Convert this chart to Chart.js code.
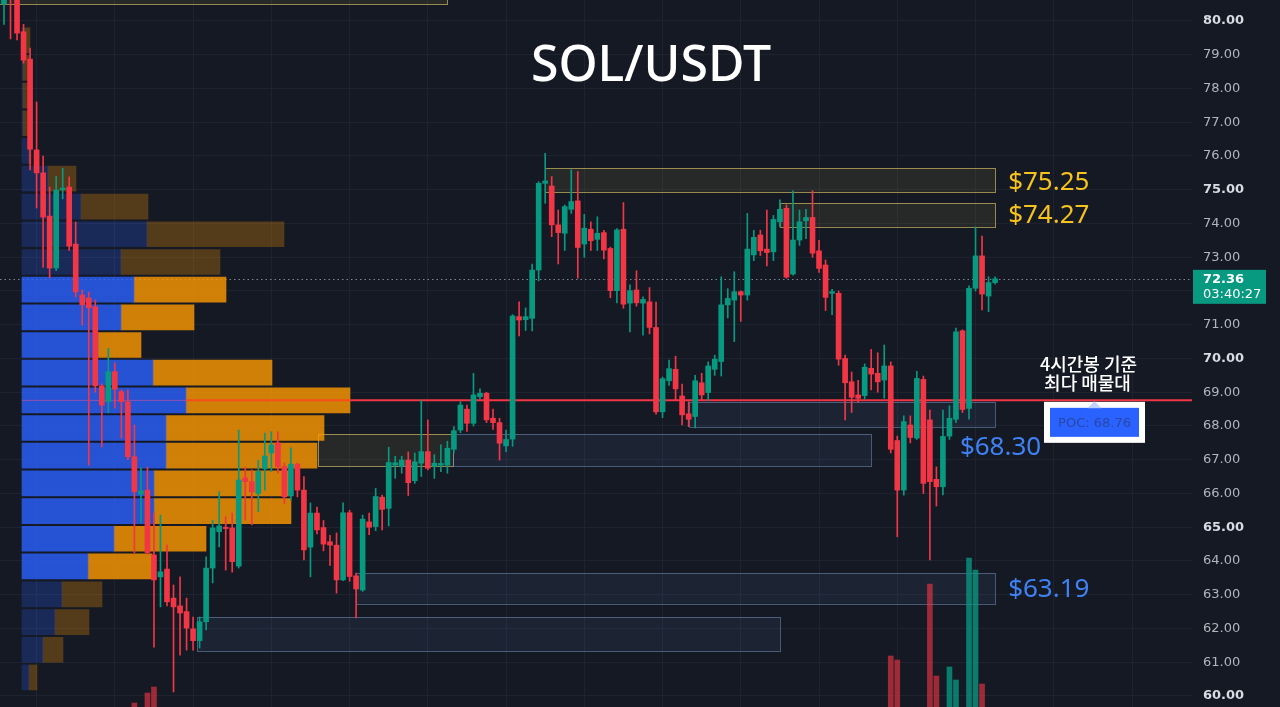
<!DOCTYPE html>
<html lang="ko">
<head>
<meta charset="utf-8">
<title>SOL/USDT</title>
<script src="https://cdn.jsdelivr.net/npm/chart.js@4.4.1/dist/chart.umd.min.js"></script>
<style>
  html, body { margin: 0; padding: 0; background: #151924; overflow: hidden; }
  #wrap { width: 1280px; height: 707px; position: relative; }
</style>
</head>
<body>
<div id="wrap"><canvas id="chart"></canvas></div>
<script>
// ========================================
// 캔들 데이터 (4시간봉, 왼쪽부터)
// ========================================
const opens = [
  80.50, 81.20, 80.70, 79.68, 78.87, 76.18, 75.50, 74.22, 72.68, 75.00,
  75.08, 73.39, 71.88, 71.79, 71.53, 69.19, 68.72, 69.61, 69.02, 68.72,
  67.09, 65.98, 66.10, 64.18, 63.53, 63.76, 62.90, 62.67, 62.50, 61.99,
  61.64, 62.20, 63.79, 64.87, 65.00, 64.98, 63.85, 66.46, 66.35, 66.00,
  66.73, 67.20, 67.50, 66.80, 65.93, 66.87, 66.10, 64.41, 65.42, 64.99,
  64.57, 64.47, 63.44, 65.43, 63.56, 63.14, 65.16, 65.02, 65.89, 65.56,
  66.84, 66.80, 66.99, 66.38, 66.90, 67.24, 66.80, 66.84, 66.84, 67.31,
  67.88, 68.50, 68.08, 68.87, 68.97, 68.23, 68.10, 67.41, 67.61, 71.24,
  71.15, 71.19, 72.62, 75.19, 75.11, 73.96, 73.71, 74.42, 74.67, 73.39,
  73.83, 73.53, 73.73, 73.26, 72.01, 73.83, 71.64, 72.03, 71.64, 71.68,
  70.92, 68.42, 69.34, 69.68, 68.89, 68.36, 68.28, 69.28, 68.99, 69.68,
  69.91, 71.59, 71.73, 71.98, 71.88, 73.07, 73.66, 73.24, 73.16, 74.05,
  74.45, 72.50, 73.51, 74.08, 74.18, 73.19, 72.77, 71.93, 71.93, 70.00,
  69.31, 68.92, 68.90, 69.71, 69.56, 69.36, 69.78, 67.57, 66.10, 68.03,
  67.64, 69.38, 68.18, 66.42, 66.20, 67.70, 68.20, 70.82, 68.52, 72.08,
  73.04, 71.85, 72.25
];
const highs = [
  81.00, 81.30, 80.90, 79.90, 79.20, 77.60, 76.00, 75.08, 75.40, 75.64,
  75.38, 74.04, 72.03, 71.97, 71.73, 69.25, 70.30, 69.87, 69.07, 69.07,
  68.03, 66.76, 66.78, 65.42, 65.36, 64.47, 63.29, 63.53, 62.90, 62.34,
  62.34, 64.12, 65.21, 66.05, 65.31, 65.42, 67.88, 66.78, 66.70, 66.99,
  67.79, 67.83, 67.83, 66.90, 67.35, 66.90, 66.50, 65.72, 65.60, 65.20,
  64.76, 64.83, 65.72, 65.50, 63.64, 65.36, 65.42, 66.15, 65.95, 67.37,
  67.10, 67.10, 67.23, 67.20, 68.77, 68.18, 67.15, 67.44, 67.55, 67.98,
  68.72, 68.62, 69.56, 69.10, 69.00, 68.50, 68.23, 67.88, 71.30, 71.68,
  71.50, 72.80, 75.24, 76.08, 75.39, 74.40, 74.55, 75.59, 75.54, 74.27,
  74.05, 74.20, 73.80, 73.30, 73.85, 74.62, 72.18, 72.60, 71.83, 72.10,
  71.67, 69.45, 69.95, 70.07, 69.24, 68.72, 69.50, 69.56, 69.90, 70.10,
  72.42, 72.07, 72.57, 72.00, 74.30, 73.80, 73.80, 74.40, 74.24, 74.70,
  74.55, 74.97, 74.40, 74.42, 74.97, 73.50, 72.92, 72.05, 72.00, 70.10,
  69.60, 69.35, 69.84, 70.27, 70.17, 70.40, 69.90, 67.70, 68.30, 68.30,
  69.62, 69.48, 68.47, 66.79, 68.47, 68.60, 70.90, 70.85, 72.15, 73.90,
  73.63, 72.42, 72.42
];
const lows = [
  79.90, 79.47, 79.44, 78.75, 75.59, 74.46, 72.70, 72.39, 72.60, 74.73,
  73.20, 71.82, 70.99, 66.84, 69.00, 67.38, 68.39, 68.53, 67.64, 67.00,
  64.24, 65.13, 64.20, 61.45, 62.64, 62.67, 60.12, 61.21, 61.36, 61.36,
  61.42, 61.96, 63.35, 64.42, 63.73, 63.67, 63.79, 65.21, 65.07, 65.46,
  66.10, 66.65, 66.60, 65.70, 65.80, 65.90, 64.03, 63.53, 64.80, 64.30,
  63.87, 63.05, 63.42, 63.40, 62.31, 63.10, 64.78, 64.90, 64.92, 65.04,
  66.45, 66.60, 65.94, 66.30, 66.50, 66.70, 66.45, 66.65, 66.60, 67.20,
  67.80, 67.84, 68.00, 68.80, 68.10, 67.90, 66.99, 67.24, 67.40, 70.67,
  70.83, 70.82, 72.30, 74.60, 73.61, 72.80, 73.20, 74.30, 72.38, 73.00,
  73.20, 73.20, 72.95, 71.80, 71.65, 71.49, 70.79, 71.55, 70.69, 70.73,
  68.35, 68.25, 69.20, 68.77, 68.03, 67.98, 67.94, 68.75, 68.75, 69.50,
  69.48, 71.20, 70.50, 71.10, 71.73, 72.90, 73.05, 72.74, 72.90, 73.90,
  72.38, 72.47, 73.35, 73.55, 73.00, 72.55, 71.42, 71.30, 69.80, 68.18,
  68.40, 68.70, 68.80, 69.07, 69.00, 68.82, 67.20, 64.72, 65.95, 67.50,
  67.60, 66.00, 64.03, 65.63, 65.96, 67.60, 68.10, 68.40, 68.20, 72.00,
  71.44, 71.39, 72.20
];
const closes = [
  80.90, 80.70, 79.64, 78.84, 76.20, 75.50, 74.19, 72.68, 74.99, 75.05,
  73.33, 71.97, 71.59, 71.50, 69.19, 68.62, 69.61, 69.09, 68.72, 67.09,
  66.05, 66.08, 64.25, 63.44, 63.68, 62.79, 62.64, 62.46, 62.01, 61.64,
  62.20, 63.79, 64.98, 65.04, 64.96, 63.98, 66.40, 66.35, 66.05, 66.65,
  67.11, 67.44, 66.80, 65.90, 66.87, 66.10, 64.33, 65.42, 64.92, 64.50,
  64.47, 63.44, 65.43, 63.54, 63.17, 65.24, 65.00, 65.91, 65.53, 66.92,
  66.91, 66.99, 66.32, 66.94, 67.24, 66.75, 66.90, 66.89, 67.34, 67.86,
  68.62, 68.08, 68.92, 68.97, 68.18, 68.10, 67.49, 67.60, 71.26, 71.14,
  71.24, 72.62, 75.19, 75.26, 73.96, 73.73, 74.50, 74.65, 73.29, 73.86,
  73.49, 73.71, 73.21, 72.01, 73.81, 71.61, 72.01, 71.65, 71.75, 70.92,
  68.42, 69.40, 69.70, 69.10, 68.33, 68.20, 69.34, 68.92, 69.78, 69.98,
  71.59, 71.78, 71.98, 71.88, 73.24, 73.59, 73.19, 73.14, 74.12, 74.42,
  72.41, 73.51, 74.05, 74.18, 73.12, 72.67, 71.81, 71.98, 69.98, 69.28,
  68.85, 68.82, 69.74, 69.54, 69.31, 69.78, 67.31, 66.10, 68.13, 67.66,
  69.41, 66.30, 66.35, 66.20, 67.69, 68.23, 70.79, 68.49, 72.08, 73.04,
  71.91, 72.25, 72.36
];
// 거래량 (화면 아래로 잘려서 보이지 않는 봉은 null)
const volumes = [
  null, null, null, null, null, null, null, null, null, null,
  null, null, null, null, null, null, null, null, null, null,
  57, null, 67, 73, null, null, null, null, null, null,
  null, null, null, null, null, null, null, null, null, null,
  null, null, null, null, null, null, null, null, null, null,
  null, null, null, null, null, null, null, null, null, null,
  null, null, null, null, null, null, null, null, null, null,
  null, null, null, null, null, null, null, null, null, null,
  null, null, null, null, null, null, null, null, null, null,
  null, null, null, null, null, null, null, null, null, null,
  null, null, null, null, null, null, null, null, null, null,
  null, null, null, null, null, null, null, null, null, null,
  null, null, null, null, null, null, null, null, null, null,
  null, null, null, null, null, null, 104, 100, null, null,
  null, null, 176, 84, null, 93, 80, null, 202, 190,
  76, null, null
];

// ========================================
// 매물대 (Volume Profile)
// ========================================
const profPrices = [
  79.43, 78.61, 77.79, 76.97, 76.15, 75.33, 74.50, 73.68, 72.86, 72.04,
  71.22, 70.40, 69.58, 68.76, 67.94, 67.12, 66.30, 65.48, 64.66, 63.84,
  63.01, 62.19, 61.37, 60.55
];
const profBuy = [
  1, 1, 1, 1, 7, 26, 59, 125, 99, 112,
  99, 76, 131, 164, 144, 144, 132, 132, 92, 66,
  40, 33, 21, 7
];
const profSell = [
  7, 7, 7, 7, 2, 28, 67, 137, 99, 92,
  73, 43, 119, 164, 158, 151, 137, 137, 92, 64,
  40, 34, 20, 8
];
const valueArea = [63.84, 72.04];
const pocPrice = 68.76;
const lastPrice = 72.36;
const countdown = '03:40:27';

// 축 눈금
const priceTicks = [60, 61, 62, 63, 64, 65, 66, 67, 68, 69, 70, 71, 72, 73, 74, 75, 76, 77, 78, 79, 80];
const gridIdx = [5, 17, 29, 41, 53, 65, 77, 89, 101, 113, 125, 137, 149, 161, 173];

// 지지/저항 박스 (봉 인덱스, 가격)
const zones = [
  { from: -1, to: 68, top: 81.0, bottom: 80.50, kind: 'gold' },
  { from: 83, to: 152, top: 75.64, bottom: 74.93, kind: 'gold' },
  { from: 119, to: 152, top: 74.61, bottom: 73.90, kind: 'gold' },
  { from: 105, to: 152, top: 68.71, bottom: 67.97, kind: 'blue' },
  { from: 48.2, to: 68.9, top: 67.76, bottom: 66.81, kind: 'gold' },
  { from: 68.9, to: 133, top: 67.76, bottom: 66.81, kind: 'blue' },
  { from: 54, to: 152, top: 63.64, bottom: 62.73, kind: 'blue' },
  { from: 29.6, to: 119, top: 62.34, bottom: 61.33, kind: 'blue' }
];
const zoneLabels = [
  { text: '$75.25', at: 154, price: 75.25, kind: 'gold' },
  { text: '$74.27', at: 154, price: 74.27, kind: 'gold' },
  { text: '$68.30', at: 146.6, price: 67.38, kind: 'blue' },
  { text: '$63.19', at: 154, price: 63.19, kind: 'blue' }
];

// ========================================
// 스타일
// ========================================
const C = {
  bg: '#151924',
  grid: '#1f2330',
  up: '#089981',
  down: '#f23645',
  upVol: 'rgba(8, 153, 129, 0.78)',
  downVol: 'rgba(242, 54, 69, 0.62)',
  buy: 'rgba(41, 98, 255, 0.8)',
  buyDim: 'rgba(41, 98, 255, 0.24)',
  sell: 'rgba(255, 152, 0, 0.8)',
  sellDim: 'rgba(255, 152, 0, 0.27)',
  tick: '#b2b5be',
  tickBold: '#d8dbe2'
};
const zoneStyle = {
  gold: { fill: 'rgba(160, 150, 70, 0.13)', line: 'rgba(205, 185, 95, 0.7)', text: '#f6c21e' },
  blue: { fill: 'rgba(70, 100, 150, 0.14)', line: 'rgba(115, 145, 185, 0.55)', text: '#3f82f4' }
};

const xMin = -0.613, xMax = 182.2;
const yMin = 59.674, yMax = 80.622;
const isUp = i => closes[i] >= opens[i];
const inVA = p => p >= valueArea[0] - 0.01 && p <= valueArea[1] + 0.01;

// 축 자동 여백 제거
const noPad = s => { s.paddingTop = 0; s.paddingBottom = 0; s.paddingLeft = 0; s.paddingRight = 0; };

// ========================================
// 오버레이 (박스, 라인, 텍스트)
// ========================================
const overlay = {
  id: 'overlay',
  beforeDatasetsDraw(chart) {
    const { ctx, chartArea: a, scales: { x, y } } = chart;
    ctx.save();
    ctx.beginPath();
    ctx.rect(a.left, a.top, a.right - a.left, a.bottom - a.top);
    ctx.clip();
    zones.forEach(z => {
      const l = x.getPixelForValue(z.from), r = x.getPixelForValue(z.to);
      const t = y.getPixelForValue(z.top), b = y.getPixelForValue(z.bottom);
      ctx.fillStyle = zoneStyle[z.kind].fill;
      ctx.fillRect(l, t, r - l, b - t);
      ctx.strokeStyle = zoneStyle[z.kind].line;
      ctx.lineWidth = 1;
      ctx.strokeRect(Math.round(l) + 0.5, Math.round(t) + 0.5, Math.round(r - l), Math.round(b - t));
    });
    // 현재가 점선
    const py = Math.round(y.getPixelForValue(lastPrice)) + 0.5;
    ctx.setLineDash([1.5, 3]);
    ctx.strokeStyle = 'rgba(170, 180, 195, 0.7)';
    ctx.beginPath();
    ctx.moveTo(a.left, py);
    ctx.lineTo(a.right, py);
    ctx.stroke();
    ctx.restore();
  },
  afterDatasetDraw(chart, args) {
    if (args.index !== 2) return;
    // 매물대 위에 POC 라인
    const { ctx, chartArea: a, scales: { y, xp } } = chart;
    const pi = profPrices.indexOf(pocPrice);
    const py = y.getPixelForValue(pocPrice);
    const x0 = xp.getPixelForValue(0);
    const x1 = xp.getPixelForValue(profBuy[pi]);
    const x2 = xp.getPixelForValue(profBuy[pi] + profSell[pi]);
    ctx.save();
    ctx.strokeStyle = 'rgba(242, 80, 150, 0.55)';
    ctx.lineWidth = 1;
    ctx.beginPath(); ctx.moveTo(x0, py); ctx.lineTo(x1, py); ctx.stroke();
    ctx.strokeStyle = 'rgba(255, 70, 30, 0.85)';
    ctx.lineWidth = 2;
    ctx.beginPath(); ctx.moveTo(x1, py); ctx.lineTo(x2, py); ctx.stroke();
    ctx.strokeStyle = C.down;
    ctx.beginPath(); ctx.moveTo(x2, py); ctx.lineTo(a.right, py); ctx.stroke();
    ctx.restore();
  },
  afterDraw(chart) {
    const { ctx, chartArea: a, scales: { x, y } } = chart;
    ctx.save();
    // 타이틀
    ctx.fillStyle = '#ffffff';
    ctx.font = '500 50px "Noto Sans", sans-serif';
    ctx.textAlign = 'center';
    ctx.textBaseline = 'alphabetic';
    ctx.fillText('SOL/USDT', 651, 81);

    // 박스 가격 라벨
    ctx.font = '26px "Noto Sans", sans-serif';
    ctx.textAlign = 'left';
    ctx.textBaseline = 'middle';
    zoneLabels.forEach(l => {
      ctx.fillStyle = zoneStyle[l.kind].text;
      ctx.fillText(l.text, x.getPixelForValue(l.at), y.getPixelForValue(l.price) + 1);
    });

    // POC 라벨
    const pocY = y.getPixelForValue(pocPrice);
    const cx = 1094.5;
    ctx.fillStyle = '#ffffff';
    ctx.font = '500 18px "Noto Sans CJK KR", sans-serif';
    ctx.textAlign = 'center';
    ctx.fillText('4시간봉 기준', cx - 6, pocY - 36);
    ctx.fillText('최다 매물대', cx - 7, pocY - 17);
    ctx.fillStyle = '#ffffff';
    ctx.fillRect(cx - 50.5, pocY + 1.5, 101, 41);
    ctx.fillStyle = '#2962ff';
    ctx.fillRect(cx - 44.5, pocY + 7.5, 89, 29);
    ctx.fillStyle = 'rgba(185, 205, 255, 0.9)';
    ctx.beginPath();
    ctx.moveTo(cx - 7, pocY + 8);
    ctx.lineTo(cx + 7, pocY + 8);
    ctx.lineTo(cx, pocY + 1);
    ctx.closePath();
    ctx.fill();
    ctx.fillStyle = '#2b47a6';
    ctx.font = '13px "DejaVu Sans", sans-serif';
    ctx.fillText('POC: ' + pocPrice.toFixed(2), cx, pocY + 23);

    // 현재가 태그
    const ly = y.getPixelForValue(lastPrice);
    ctx.fillStyle = C.up;
    ctx.fillRect(a.right + 1, ly - 9, 73, 34);
    ctx.fillStyle = '#ffffff';
    ctx.textAlign = 'left';
    ctx.font = 'bold 13px "DejaVu Sans", sans-serif';
    ctx.fillText(lastPrice.toFixed(2), a.right + 11, ly + 1);
    ctx.font = '13px "DejaVu Sans", sans-serif';
    ctx.fillText(countdown, a.right + 11, ly + 16);
    ctx.restore();
  }
};

// ========================================
// 차트
// ========================================
const idx = opens.map((_, i) => i);

new Chart(document.getElementById('chart'), {
  type: 'bar',
  data: {
    datasets: [
      {
        label: 'body',
        data: idx.map(i => ({ x: i, y: [opens[i], closes[i]] })),
        backgroundColor: ctx => isUp(ctx.dataIndex) ? C.up : C.down,
        barThickness: 5,
        minBarLength: 1,
        grouped: false,
        order: 1
      },
      {
        label: 'wick',
        data: idx.map(i => ({ x: i, y: [lows[i], highs[i]] })),
        backgroundColor: ctx => isUp(ctx.dataIndex) ? C.up : C.down,
        barThickness: 1,
        grouped: false,
        order: 2
      },
      {
        label: 'buy',
        indexAxis: 'y',
        xAxisID: 'xp',
        yAxisID: 'y',
        data: profPrices.map((p, i) => ({ y: p, x: [0, profBuy[i]] })),
        backgroundColor: ctx => inVA(profPrices[ctx.dataIndex]) ? C.buy : C.buyDim,
        barThickness: 25,
        grouped: false,
        order: 5
      },
      {
        label: 'sell',
        indexAxis: 'y',
        xAxisID: 'xp',
        yAxisID: 'y',
        data: profPrices.map((p, i) => ({ y: p, x: [profBuy[i], profBuy[i] + profSell[i]] })),
        backgroundColor: ctx => inVA(profPrices[ctx.dataIndex]) ? C.sell : C.sellDim,
        barThickness: 25,
        grouped: false,
        order: 6
      },
      {
        label: 'volume',
        yAxisID: 'yv',
        data: idx.filter(i => volumes[i] !== null).map(i => ({ x: i, y: volumes[i], up: isUp(i) })),
        backgroundColor: ctx => ctx.raw && ctx.raw.up ? C.upVol : C.downVol,
        barThickness: 5,
        grouped: false,
        order: 7
      }
    ]
  },
  options: {
    responsive: true,
    maintainAspectRatio: false,
    animation: false,
    events: [],
    layout: { padding: 0, autoPadding: false },
    plugins: {
      legend: { display: false },
      tooltip: { enabled: false }
    },
    scales: {
      x: {
        type: 'linear',
        min: xMin,
        max: xMax,
        offset: false,
        bounds: 'data',
        afterBuildTicks: s => { s.ticks = gridIdx.map(v => ({ value: v })); },
        afterFit: s => { s.height = 0; noPad(s); },
        ticks: { display: false },
        grid: { color: C.grid, drawTicks: false, offset: false },
        border: { display: false }
      },
      xp: {
        type: 'linear',
        min: -22,
        max: 1170,
        offset: false,
        display: false
      },
      y: {
        type: 'linear',
        position: 'right',
        min: yMin,
        max: yMax,
        offset: false,
        beginAtZero: false,
        bounds: 'data',
        afterBuildTicks: s => { s.ticks = priceTicks.map(v => ({ value: v })); },
        afterFit: s => { s.width = 88; noPad(s); },
        ticks: {
          padding: 11,
          autoSkip: false,
          callback: v => Number(v).toFixed(2),
          color: ctx => ctx.tick && ctx.tick.value % 5 === 0 ? C.tickBold : C.tick,
          font: ctx => ({
            family: '"DejaVu Sans", sans-serif',
            size: 13,
            weight: ctx.tick && ctx.tick.value % 5 === 0 ? 'bold' : 'normal'
          })
        },
        grid: { color: C.grid, drawTicks: false, offset: false },
        border: { display: false }
      },
      yv: {
        type: 'linear',
        min: 53,
        max: 760,
        offset: false,
        display: false
      }
    }
  },
  plugins: [overlay]
});
</script>
</body>
</html>
